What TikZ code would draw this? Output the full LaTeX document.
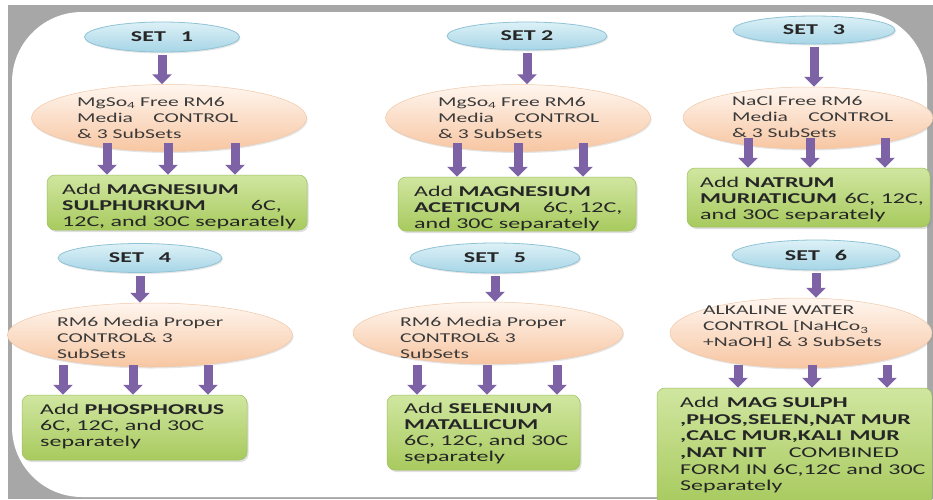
\documentclass[tikz,border=0pt]{standalone}
\usepackage{fontspec}
\setmainfont{Carlito}[FakeStretch=1.6]
\usetikzlibrary{arrows.meta,shapes.geometric,shadows}
\definecolor{framegray}{HTML}{A7A7A7}
\definecolor{setTop}{HTML}{DDF1F7}
\definecolor{setBot}{HTML}{A6D5E6}
\definecolor{setEdge}{HTML}{8FC3D6}
\definecolor{medTop}{HTML}{FFF6EF}
\definecolor{medBot}{HTML}{F7C6A2}
\definecolor{medEdge}{HTML}{F0C8A8}
\definecolor{boxTop}{HTML}{D0E6A0}
\definecolor{boxBot}{HTML}{A8CA5E}
\definecolor{boxEdge}{HTML}{9CBF5C}
\definecolor{arrowpurple}{HTML}{7E62A6}
\definecolor{textdark}{HTML}{262626}
\definecolor{medtext}{HTML}{3A3A3A}
\begin{document}
\begin{tikzpicture}[x=1pt,y=-1pt,
  setnode/.style={ellipse, draw=setEdge, line width=0.8pt, top color=setTop, bottom color=setBot,
    inner sep=0pt, font=\fontsize{15}{17}\selectfont\bfseries, text=textdark,
    drop shadow={opacity=0.2,shadow xshift=1pt,shadow yshift=-1.5pt}},
  media/.style={ellipse, draw=medEdge, line width=0.5pt, top color=medTop, bottom color=medBot,
    inner sep=0pt, drop shadow={opacity=0.2,shadow xshift=1pt,shadow yshift=-1.5pt}},
  addbox/.style={rectangle, rounded corners=8pt, draw=boxEdge, line width=0.5pt,
    top color=boxTop, bottom color=boxBot, inner sep=0pt,
    drop shadow={opacity=0.25,shadow xshift=1.5pt,shadow yshift=-2pt}},
  boxtext/.style={anchor=north west, align=left, inner sep=0pt,
    font=\fontsize{15}{16}\selectfont, text=textdark},
  medtxt/.style={anchor=north west, align=left, inner sep=0pt,
    font=\fontsize{13.5}{16}\selectfont, text=medtext},
  barrow/.style={draw=arrowpurple, line width=9pt, -{Triangle[width=19pt,length=10pt]}}
]
\useasboundingbox (0,0) rectangle (933,499);
% background frame
\fill[white] (0,0) rectangle (933,499);
\fill[framegray] (8,5) rectangle (933,499);
\fill[white, rounded corners=70pt] (12,12) rectangle (927,497);

% ---------- SET 1 ----------
\node[setnode, minimum width=155pt, minimum height=30pt] (s1) at (162,37) {SET\quad 1};
\node[media, minimum width=275pt, minimum height=67pt] (m1) at (169,118) {};
\node[medtxt] (o1) at (77,97) {MgSo\textsubscript{4} Free RM6\\Media\hspace{1.5em}CONTROL\\\& 3 SubSets};
\node[addbox, minimum width=260pt, minimum height=55pt] (g1) at (177,202.5) {};
\node[boxtext] (t1) at (62,184) {Add \textbf{MAGNESIUM}\\\textbf{SULPHURKUM}\hspace{3em}6C,\\12C, and 30C separately};

% ---------- SET 2 ----------
\node[setnode, minimum width=160pt, minimum height=28pt] (s2) at (527,36) {SET 2};
\node[media, minimum width=265pt, minimum height=67pt] (m2) at (518,118) {};
\node[medtxt] (o2) at (438,97) {MgSo\textsubscript{4} Free RM6\\Media\hspace{1.5em}CONTROL\\\& 3 SubSets};
\node[addbox, minimum width=238pt, minimum height=54pt] (g2) at (517,204) {};
\node[boxtext] (t2) at (414,186) {Add \textbf{MAGNESIUM}\\\textbf{ACETICUM}\hspace{1.5em}6C, 12C,\\and 30C separately};

% ---------- SET 3 ----------
\node[setnode, minimum width=162pt, minimum height=28pt] (s3) at (814,30) {SET\quad 3};
\node[media, minimum width=250pt, minimum height=62pt] (m3) at (808,118) {};
\node[medtxt] (o3) at (732,96) {NaCl Free RM6\\Media\hspace{1.5em}CONTROL\\\& 3 SubSets};
\node[addbox, minimum width=243pt, minimum height=59pt] (g3) at (808.5,197.5) {};
\node[boxtext] (t3) at (700,177) {Add \textbf{NATRUM}\\\textbf{MURIATICUM}\enspace 6C, 12C,\\and 30C separately};

% ---------- SET 4 ----------
\node[setnode, minimum width=164pt, minimum height=29pt] (s4) at (140,258) {SET\quad 4};
\node[media, minimum width=285pt, minimum height=64pt] (m4) at (150,335) {};
\node[medtxt] (o4) at (57,317) {RM6 Media Proper\\CONTROL\& 3\\SubSets};
\node[addbox, minimum width=225pt, minimum height=65pt] (g4) at (134.5,427.5) {};
\node[boxtext] (t4) at (40,404) {Add \textbf{PHOSPHORUS}\\6C, 12C, and 30C\\separately};

% ---------- SET 5 ----------
\node[setnode, minimum width=170pt, minimum height=30pt] (s5) at (495,258) {SET\quad 5};
\node[media, minimum width=270pt, minimum height=62pt] (m5) at (488,333) {};
\node[medtxt] (o5) at (400,317) {RM6 Media Proper\\CONTROL\& 3\\SubSets};
\node[addbox, minimum width=193pt, minimum height=75pt] (g5) at (483.5,432.5) {};
\node[boxtext] (t5) at (404,403) {Add \textbf{SELENIUM}\\\textbf{MATALLICUM}\\6C, 12C, and 30C\\separately};

% ---------- SET 6 ----------
\node[setnode, minimum width=168pt, minimum height=30pt] (s6) at (816,255) {SET\quad 6};
\node[media, minimum width=262pt, minimum height=70pt] (m6) at (801,333) {};
\node[medtxt] (o6) at (703,306) {ALKALINE WATER\\CONTROL [NaHCo\textsubscript{3}\\+NaOH] \& 3 SubSets};
\node[addbox, minimum width=275pt, minimum height=117pt] (g6) at (794.5,446.5) {};
\node[boxtext, font=\fontsize{15}{16.6}\selectfont] (t6) at (680,397) {Add\enspace\textbf{MAG SULPH}\\\textbf{,PHOS,SELEN,NAT MUR}\\\textbf{,CALC MUR,KALI\enspace MUR}\\\textbf{,NAT NIT}\hspace{1.5em}COMBINED\\FORM IN 6C,12C and 30C\\Separately};

% ---------- arrow start points ----------
\coordinate (a11) at (107,143); \coordinate (a12) at (168,143); \coordinate (a13) at (235,143);
\coordinate (a21) at (457,143); \coordinate (a22) at (518,143); \coordinate (a23) at (583,143);
\coordinate (a31) at (748,138); \coordinate (a32) at (810,138); \coordinate (a33) at (885,138);
\coordinate (a41) at (63,365);  \coordinate (a42) at (133,365); \coordinate (a43) at (208,365);
\coordinate (a51) at (417,365); \coordinate (a52) at (487,365); \coordinate (a53) at (557,365);
\coordinate (a61) at (738,365); \coordinate (a62) at (812,365); \coordinate (a63) at (887,365);

% ---------- arrows ----------
\foreach \i in {1,...,6}{
  \draw[barrow] ([yshift=-3pt]s\i.south) -- (s\i.south |- m\i.north);
  \foreach \j in {1,2,3}{
    \draw[barrow] (a\i\j) -- (a\i\j |- g\i.north);
  }
}
\end{tikzpicture}
\end{document}
